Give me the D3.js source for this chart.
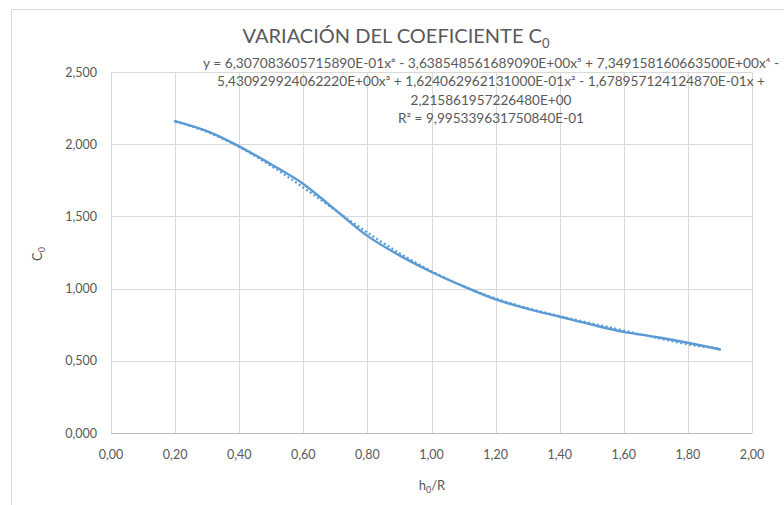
<!DOCTYPE html>
<html><head><meta charset="utf-8">
<script src="https://cdn.jsdelivr.net/npm/d3@7"></script>
<style>
html,body{margin:0;padding:0;background:#fff;}
svg{display:block;}
text{font-family:Lato,"Open Sans",sans-serif;fill:#595959;}
</style></head>
<body>
<svg id="chart" width="784" height="505"></svg>
<script>
// ---- data ----
const h0R = [0.2,0.3,0.4,0.5,0.6,0.7,0.8,0.9,1.0,1.1,1.2,1.3,1.4,1.5,1.6,1.7,1.8,1.9];
const C0  = [2.160,2.090,1.985,1.860,1.725,1.545,1.365,1.230,1.115,1.015,0.925,0.860,0.805,0.750,0.700,0.665,0.625,0.578];
// polynomial trendline coefficients (x^6 ... x^0) as printed on the chart
const trendCoef = [6.307083605715890E-01,-3.638548561689090E+00,7.349158160663500E+00,-5.430929924062220E+00,1.624062962131000E-01,-1.678957124124870E-01,2.215861957226480E+00];
const xTicks = [0,0.2,0.4,0.6,0.8,1.0,1.2,1.4,1.6,1.8,2.0];
const yTicks = [0,0.5,1.0,1.5,2.0,2.5];
const eqLines = [
  "y = 6,307083605715890E-01x\u2076 - 3,638548561689090E+00x\u2075 + 7,349158160663500E+00x\u2074 -",
  "5,430929924062220E+00x\u00B3 + 1,624062962131000E-01x\u00B2 - 1,678957124124870E-01x +",
  "2,215861957226480E+00",
  "R\u00B2 = 9,995339631750840E-01"
];
const eqWidths = [576, 548, 161, 186];

const svg = d3.select("#chart");
const L=111, R=752, T=72, B=433;
const x = d3.scaleLinear().domain([0,2]).range([L,R]);
const y = d3.scaleLinear().domain([0,2.5]).range([B,T]);

// chart border
svg.append("rect").attr("x",11.5).attr("y",9.5).attr("width",900).attr("height",600)
  .attr("fill","none").attr("stroke","#d9d9d9");

// gridlines
svg.append("g").selectAll("line.h").data(yTicks).join("line")
  .attr("x1",L).attr("x2",R).attr("y1",d=>Math.round(y(d))+0.5).attr("y2",d=>Math.round(y(d))+0.5)
  .attr("stroke","#d9d9d9").attr("stroke-width",1);
svg.append("g").selectAll("line.v").data(xTicks).join("line")
  .attr("y1",T).attr("y2",B).attr("x1",d=>Math.round(x(d))+0.5).attr("x2",d=>Math.round(x(d))+0.5)
  .attr("stroke","#d9d9d9").attr("stroke-width",1);
// x axis line
svg.append("line").attr("x1",L).attr("x2",R).attr("y1",B+0.5).attr("y2",B+0.5).attr("stroke","#bfbfbf");

const fmt = (v,d)=>v.toFixed(d).replace(".",",");
// y tick labels
svg.append("g").selectAll("text").data(yTicks).join("text")
  .attr("x",97).attr("y",d=>y(d)+4.5).attr("text-anchor","end").attr("font-size",12.5)
  .text(d=>fmt(d,3));
// x tick labels
svg.append("g").selectAll("text").data(xTicks).join("text")
  .attr("x",d=>x(d)).attr("y",459).attr("text-anchor","middle").attr("font-size",12.5)
  .text(d=>fmt(d,2));

// axis titles
const xt = svg.append("text").attr("x",432).attr("y",490).attr("text-anchor","middle").attr("font-size",13);
xt.append("tspan").text("h");
xt.append("tspan").attr("font-size",9).attr("dy",3).text("0");
xt.append("tspan").attr("dy",-3).text("/R");
const yt = svg.append("text").attr("transform","translate(42,254) rotate(-90)").attr("text-anchor","middle").attr("font-size",13);
yt.append("tspan").text("C");
yt.append("tspan").attr("font-size",9).attr("dy",3).text("0");

// title
const tt = svg.append("text").attr("x",396).attr("y",43).attr("text-anchor","middle").attr("font-size",20);
tt.append("tspan").text("VARIACIÓN DEL COEFICIENTE C");
tt.append("tspan").attr("font-size",13).attr("dy",5).text("0");

// equation
svg.append("g").selectAll("text").data(eqLines).join("text")
  .attr("x",491).attr("y",(d,i)=>68+i*18.3).attr("text-anchor","middle").attr("font-size",12.8)
  .attr("textLength",(d,i)=>eqWidths[i]).attr("lengthAdjust","spacingAndGlyphs")
  .text(d=>d);

// trendline (from printed coefficients)
const poly = v => trendCoef.reduce((acc,c)=>acc*v+c,0);
const tx = d3.range(0.2,1.9001,0.01);
svg.append("path").datum(tx)
  .attr("d",d3.line().x(d=>x(d)).y(d=>y(poly(d))))
  .attr("fill","none").attr("stroke","#5B9BD5").attr("stroke-width",2.2)
  .attr("stroke-dasharray","2,2.5");

// data line
svg.append("path").datum(h0R.map((v,i)=>[v,C0[i]]))
  .attr("d",d3.line().x(d=>x(d[0])).y(d=>y(d[1])).curve(d3.curveMonotoneX))
  .attr("fill","none").attr("stroke","#5B9BD5").attr("stroke-width",2.4).attr("stroke-linecap","round");
</script>
</body></html>
